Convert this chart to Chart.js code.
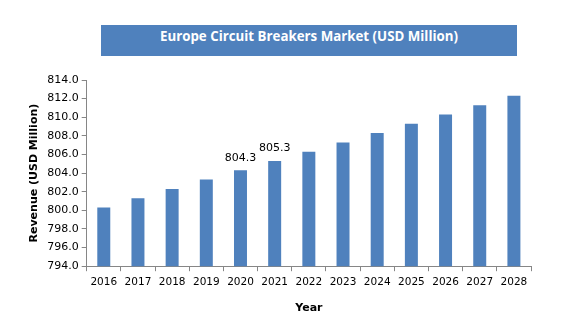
<!DOCTYPE html>
<html>
<head>
<meta charset="utf-8">
<script src="https://cdn.jsdelivr.net/npm/chart.js@4"></script>
<style>
    body { margin: 0; background: #fff; }
    #wrap { position: relative; width: 582px; height: 332px; }
    #titulo {
        position: absolute; left: 101px; top: 25px; width: 416px; height: 31px;
        background: #4F81BD; color: #fff; font: bold 13.3px "Open Sans", sans-serif;
        text-align: center; line-height: 23px;
    }
</style>
</head>
<body>
<div id="wrap">
    <canvas id="myChart" width="582" height="332"></canvas>
    <div id="titulo">Europe Circuit Breakers Market (USD Million)</div>
</div>
<script>
const anos = ['2016', '2017', '2018', '2019', '2020', '2021', '2022', '2023', '2024', '2025', '2026', '2027', '2028'];
const receita = [800.3, 801.3, 802.3, 803.3, 804.3, 805.3, 806.3, 807.3, 808.3, 809.3, 810.3, 811.3, 812.3];
const rotulos = ['', '', '', '', '804.3', '805.3', '', '', '', '', '', '', ''];

const corEixo = '#868686';

// desenha os valores so nas barras que tem rotulo
const rotuloPlugin = {
    id: 'rotulos',
    afterDatasetsDraw(chart) {
        const c = chart.ctx;
        const meta = chart.getDatasetMeta(0);
        c.save();
        c.font = '11px "DejaVu Sans", sans-serif';
        c.fillStyle = '#000';
        c.textAlign = 'center';
        c.textBaseline = 'bottom';
        meta.data.forEach((bar, i) => {
            if (rotulos[i]) c.fillText(rotulos[i], bar.x, bar.y - 7);
        });
        c.restore();
    }
};

const ctx = document.getElementById('myChart');

new Chart(ctx, {
    type: 'bar',
    data: {
        labels: anos,
        datasets: [{
            label: 'Revenue',
            data: receita,
            backgroundColor: '#4F81BD',
            barPercentage: 0.38,
            categoryPercentage: 1
        }]
    },
    options: {
        responsive: false,
        animation: false,
        layout: {
            padding: { top: 80, right: 51, left: 24, bottom: 13 }
        },
        scales: {
            x: {
                grid: {
                    display: true,
                    drawOnChartArea: false,
                    tickLength: 5,
                    color: corEixo
                },
                border: { color: corEixo },
                ticks: {
                    color: '#000',
                    font: { family: 'DejaVu Sans', size: 10.5 },
                    padding: 5
                },
                title: {
                    display: true,
                    text: 'Year',
                    color: '#000',
                    font: { family: 'DejaVu Sans', size: 11, weight: 'bold' },
                    padding: { top: 8 }
                }
            },
            y: {
                min: 794,
                max: 814,
                ticks: {
                    stepSize: 2,
                    color: '#000',
                    font: { family: 'DejaVu Sans', size: 11 },
                    padding: 3,
                    callback: v => v.toFixed(1)
                },
                grid: {
                    display: true,
                    drawOnChartArea: false,
                    tickLength: 5,
                    color: corEixo
                },
                border: { color: corEixo },
                title: {
                    display: true,
                    text: 'Revenue (USD Million)',
                    color: '#000',
                    font: { family: 'DejaVu Sans', size: 11, weight: 'bold' },
                    padding: { bottom: 3 }
                }
            }
        },
        plugins: {
            legend: { display: false },
            tooltip: { enabled: false }
        }
    },
    plugins: [rotuloPlugin]
});
</script>
</body>
</html>
